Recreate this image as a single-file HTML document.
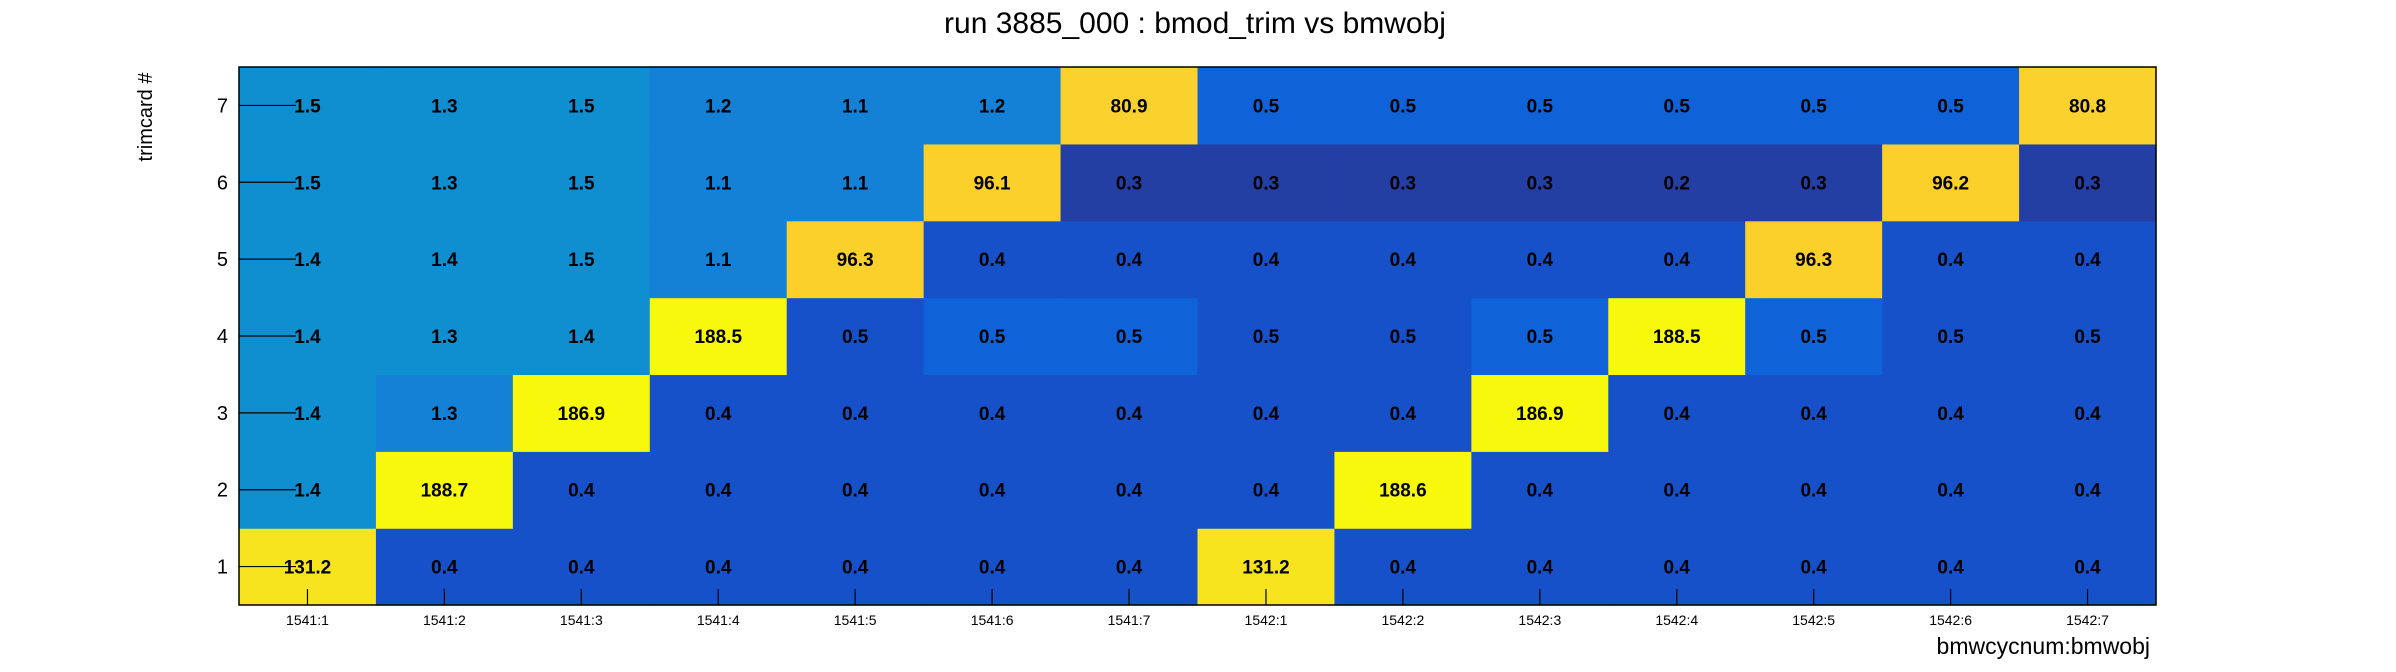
<!DOCTYPE html>
<html><head><meta charset="utf-8"><style>
body{margin:0;background:#fff;}
svg{display:block;font-family:"Liberation Sans",sans-serif;}
</style></head><body>
<svg id="chart" width="2396" height="672" viewBox="0 0 2396 672">
<text x="1195" y="33" font-size="30" text-anchor="middle">run 3885_000 : bmod_trim vs bmwobj</text>
<text transform="translate(152,117) rotate(-90)" font-size="20" text-anchor="middle">trimcard #</text>
<text x="2150" y="654" font-size="23" text-anchor="end">bmwcycnum:bmwobj</text>
<g id="cells"></g>
<g id="axes"></g>
</svg>
<script>
const categories = ["1541:1","1541:2","1541:3","1541:4","1541:5","1541:6","1541:7","1542:1","1542:2","1542:3","1542:4","1542:5","1542:6","1542:7"];
const rowLabels = ["1","2","3","4","5","6","7"];
const row1 = [131.2,0.4,0.4,0.4,0.4,0.4,0.4,131.2,0.4,0.4,0.4,0.4,0.4,0.4];
const row2 = [1.4,188.7,0.4,0.4,0.4,0.4,0.4,0.4,188.6,0.4,0.4,0.4,0.4,0.4];
const row3 = [1.4,1.26,186.9,0.4,0.4,0.4,0.4,0.4,0.4,186.9,0.4,0.4,0.4,0.4];
const row4 = [1.4,1.34,1.4,188.5,0.46,0.52,0.52,0.46,0.46,0.52,188.5,0.52,0.46,0.46];
const row5 = [1.4,1.4,1.5,1.1,96.3,0.4,0.4,0.4,0.4,0.4,0.4,96.3,0.4,0.4];
const row6 = [1.5,1.3,1.5,1.1,1.1,96.1,0.3,0.3,0.3,0.3,0.2,0.3,96.2,0.3];
const row7 = [1.5,1.3,1.5,1.2,1.1,1.2,80.9,0.5,0.5,0.5,0.5,0.5,0.5,80.8];
const rows = [row1,row2,row3,row4,row5,row6,row7];
const paletteStops = [0, 0.38, 0.5, 1.0, 1.3, 50, 90, 120, 170];
const paletteColors = ["#233fa4","#1651c9","#1062d9","#1581d6","#0f8ed0","#fbd22d","#fbd02a","#f7e41e","#f7f80c"];

const NS="http://www.w3.org/2000/svg";
const L=239,R=2156,T=67,B=605;
const cw=(R-L)/categories.length, ch=(B-T)/rowLabels.length;
const xPos=i=>L+i*cw;
const yPos=j=>B-(j+1)*ch;
function color(v){let c=paletteColors[0];for(let k=0;k<paletteStops.length;k++){if(v>=paletteStops[k])c=paletteColors[k];}return c;}
function mk(tag,attrs,parent){const e=document.createElementNS(NS,tag);for(const k in attrs)e.setAttribute(k,attrs[k]);parent.appendChild(e);return e;}
const cells=document.getElementById('cells'), axes=document.getElementById('axes');
rows.forEach((row,j)=>{
  row.forEach((v,i)=>{
    const r=mk('rect',{x:xPos(i),y:yPos(j),width:cw+0.6,height:ch+0.6,fill:color(v)},cells);
    
    
    const t=mk('text',{x:xPos(i)+cw/2,y:yPos(j)+ch/2+7,'font-size':19,'font-weight':'bold','text-anchor':'middle'},cells);
    t.textContent=v.toFixed(1);
    
    
  });
});
mk('rect',{x:L,y:T,width:R-L,height:B-T,fill:'none',stroke:'#000','stroke-width':1.5},axes);
rowLabels.forEach((lab,j)=>{
  const y=yPos(j)+ch/2;
  mk('line',{x1:L,x2:L+57,y1:y,y2:y,stroke:'#000','stroke-width':1.2},axes);
  const t=mk('text',{x:228,y:y+7,'font-size':20,'text-anchor':'end'},axes);
  t.textContent=lab;
  
  
});
categories.forEach((c,i)=>{
  const x=xPos(i)+cw/2;
  mk('line',{x1:x,x2:x,y1:B,y2:B-16,stroke:'#000','stroke-width':1.2},axes);
  const t=mk('text',{x:x,y:625,'font-size':14,'text-anchor':'middle'},axes);
  t.textContent=c;
  
  
});
</script>
</body></html>
